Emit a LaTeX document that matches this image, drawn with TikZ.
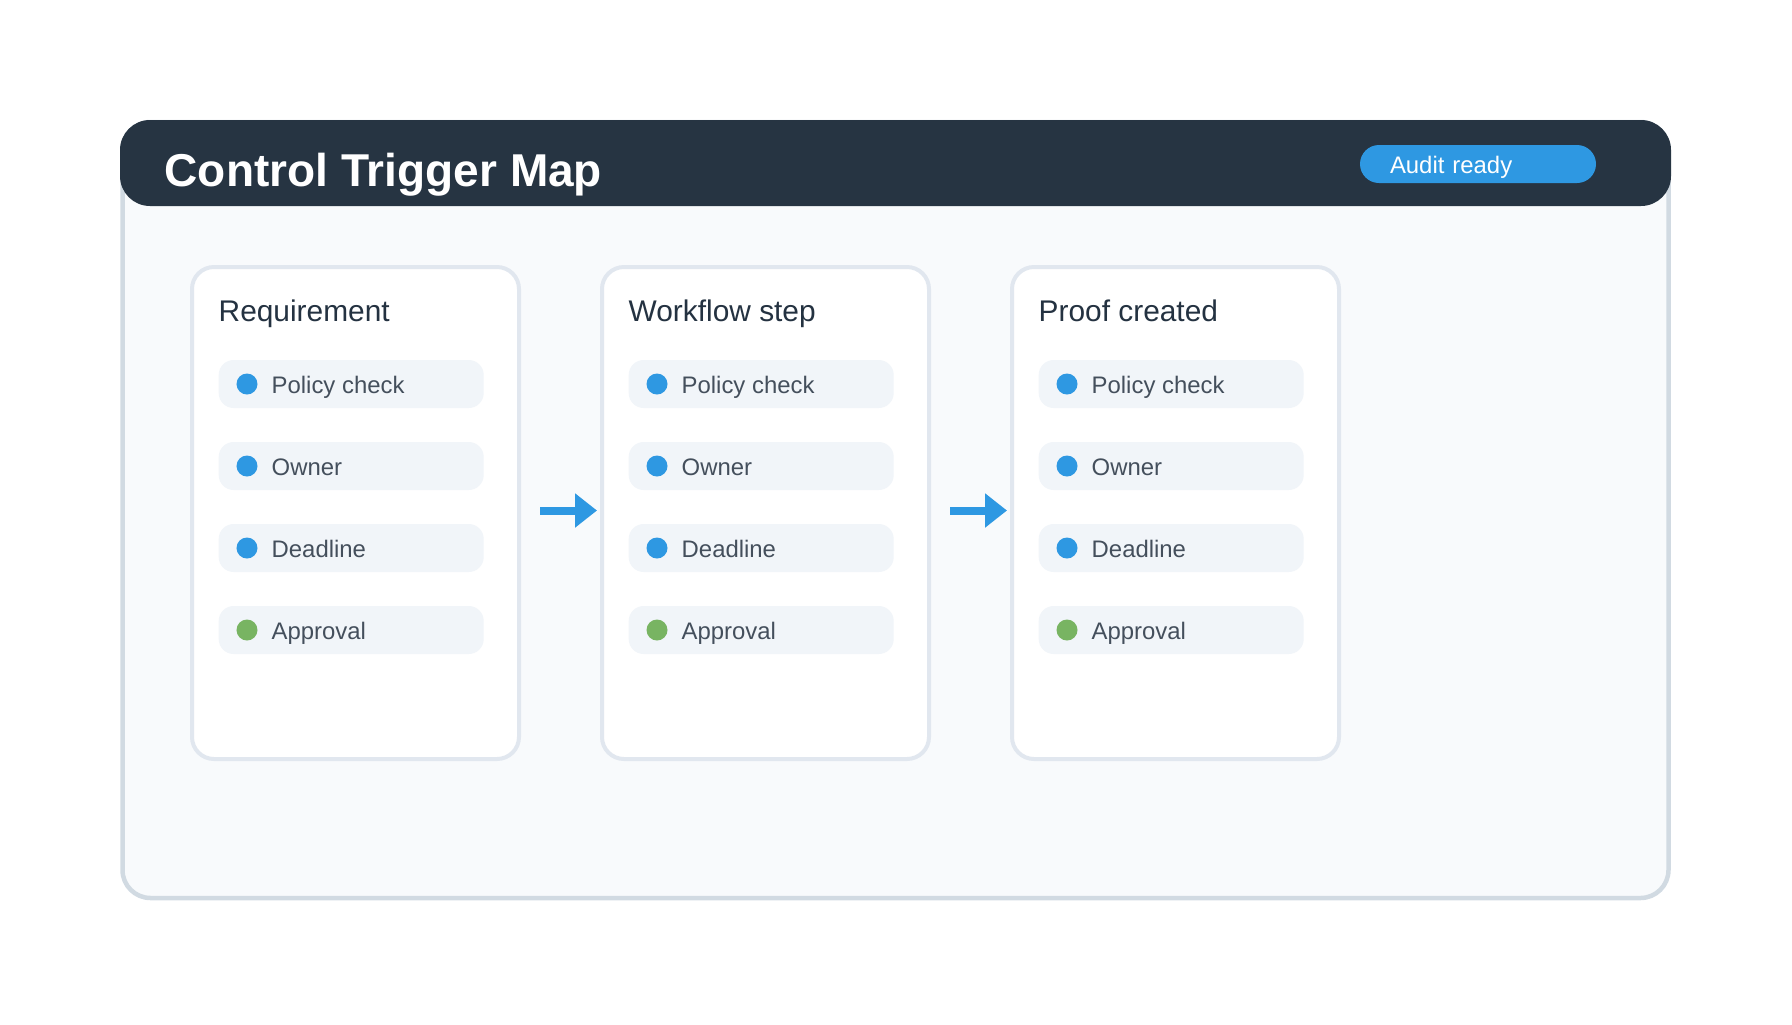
\documentclass[tikz,border=0pt]{standalone}
\usepackage{fontspec}
\setmainfont{Liberation Sans}
\usetikzlibrary{positioning,arrows.meta}

\definecolor{headbg}{HTML}{263442}
\definecolor{frameline}{HTML}{D1DAE2}
\definecolor{framebg}{HTML}{F8FAFC}
\definecolor{cardline}{HTML}{E1E7EF}
\definecolor{pillbg}{HTML}{F1F5F9}
\definecolor{flowblue}{HTML}{2E98E2}
\definecolor{okgreen}{HTML}{78B462}
\definecolor{titletext}{HTML}{243241}
\definecolor{itemtext}{HTML}{444F5C}

\begin{document}
\begin{tikzpicture}[
          card/.style={draw=cardline, line width=0.04cm, fill=white, rounded corners=0.22cm, minimum width=3.27cm, minimum height=4.92cm, outer sep=0pt},
          cardtitle/.style={anchor=base west, inner sep=0pt, text=titletext, font=\fontsize{8.5}{10}\selectfont},
          item/.style={fill=pillbg, rounded corners=0.15cm, minimum width=2.65cm, minimum height=0.48cm, anchor=west, inner sep=0pt},
          dot/.style={circle, inner sep=0pt, minimum size=0.21cm},
          itemtext/.style={anchor=base west, inner sep=0pt, text=itemtext, font=\fontsize{6.8}{8.2}\selectfont},
          arrow/.style={-{Triangle[length=0.22cm, width=0.33cm]}, line width=0.08cm, draw=flowblue, shorten <=0.21cm, shorten >=0.05cm}
        ]
          \useasboundingbox (0,0) rectangle (17.92,-10.24);

          % Frame and header bar
          \draw[draw=frameline, fill=framebg, line width=0.045cm, rounded corners=0.28cm] (1.225,-1.22) rectangle (16.685,-8.98);
          \fill[headbg, rounded corners=0.3cm] (1.20,-1.20) rectangle (16.71,-2.06);
          \node[anchor=base west, inner sep=0pt, text=white, font=\fontsize{13.1}{15.5}\selectfont\bfseries] (title) at (1.64,-1.86) {Control Trigger Map};
          \node[fill=flowblue, text=white, rounded corners=0.19cm, minimum height=0.38cm, text width=1.76cm, inner xsep=0.30cm, inner ysep=0pt, text height=0.23cm, text depth=0.05cm, align=left, font=\fontsize{6.8}{8.2}\selectfont] (badge) at (14.78,-1.64) {Audit ready};

          % Stage cards
          \node[card] (req) at (3.555,-5.13) {};
          \node[card, right=0.83cm of req] (wf) {};
          \node[card, right=0.83cm of wf] (proof) {};

          \node[cardtitle] at ([shift={(0.26,-0.54)}]req.north west) {Requirement};
          \node[cardtitle] at ([shift={(0.26,-0.54)}]wf.north west) {Workflow step};
          \node[cardtitle] at ([shift={(0.26,-0.54)}]proof.north west) {Proof created};

          % Checklist items
          \foreach \c in {req,wf,proof}{
            \foreach \t/\col [count=\i] in {Policy check/flowblue, Owner/flowblue, Deadline/flowblue, Approval/okgreen}{
              \node[item] (\c-\i) at ([shift={(0.26,{-0.35-0.82*\i})}]\c.north west) {};
              \node[dot, fill=\col] (\c-\i-dot) at ([xshift=0.29cm]\c-\i.west) {};
              \node[itemtext] (\c-\i-text) at ([shift={(0.53,-0.09)}]\c-\i.west) {\t};
            }
          }

          % Connections
          \draw[arrow] ([yshift=0.025cm]req.east) -- ([yshift=0.025cm]wf.west);
          \draw[arrow] ([yshift=0.025cm]wf.east) -- ([yshift=0.025cm]proof.west);
        \end{tikzpicture}
\end{document}
